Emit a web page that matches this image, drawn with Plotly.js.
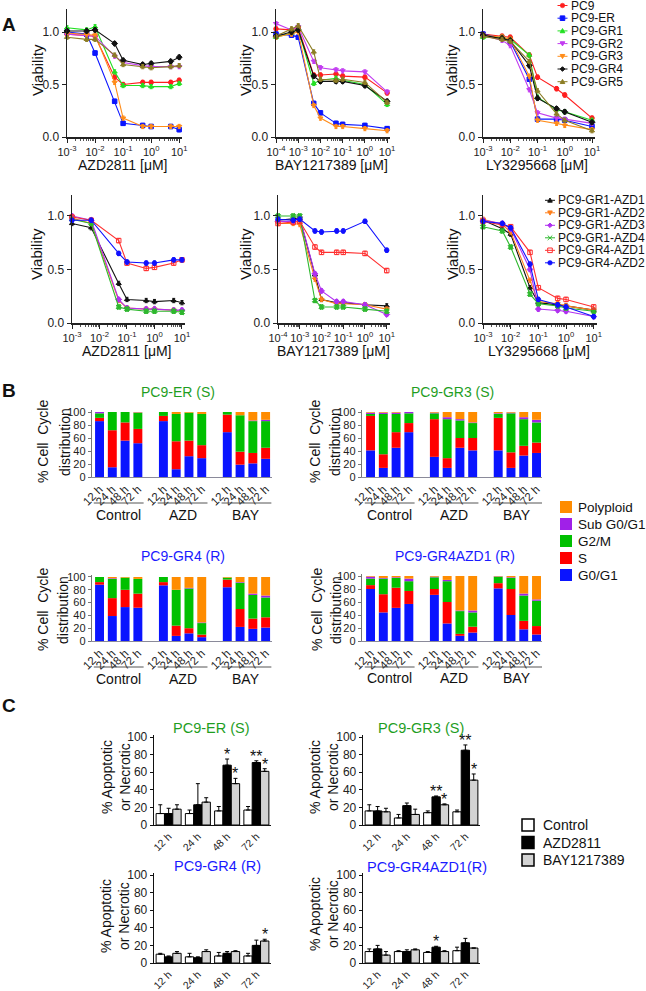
<!DOCTYPE html>
<html><head><meta charset="utf-8">
<script src="https://cdn.plot.ly/plotly-3.0.1.min.js"></script>
<style>html,body{margin:0;padding:0;background:#fff}#chart{width:646px;height:991px}</style>
</head><body><div id="chart"></div>
<script>
const W = 646, H = 991;
const px = x => x / W;
const py = y => 1 - y / H;
const FONT = 'Liberation Sans, Arial, sans-serif';

// ================= Panel A data =================
const seriesA = ['PC9','PC9-ER','PC9-GR1','PC9-GR2','PC9-GR3','PC9-GR4','PC9-GR5'];
const doseAZD = [0.001,0.005,0.01,0.05,0.1,0.5,1,5,10];
const doseBAY = [0.0001,0.0005,0.001,0.005,0.01,0.05,0.1,1,10];
const doseLY  = [0.001,0.005,0.01,0.05,0.1,0.5,1,10];
const viabAZD = [
  [0.98,0.97,0.96,0.57,0.50,0.52,0.52,0.52,0.54],
  [1.00,0.98,0.80,0.34,0.13,0.11,0.10,0.10,0.07],
  [1.04,1.02,1.05,0.62,0.49,0.49,0.48,0.48,0.51],
  [0.98,0.97,0.96,0.77,0.71,0.68,0.67,0.67,0.67],
  [0.99,0.98,0.97,0.52,0.18,0.10,0.10,0.10,0.10],
  [1.01,1.01,1.02,0.89,0.73,0.69,0.70,0.72,0.76],
  [0.95,0.93,0.93,0.78,0.69,0.67,0.66,0.67,0.68]
];
const viabBAY = [
  [1.03,1.02,1.04,0.59,0.59,0.60,0.58,0.57,0.42],
  [0.98,0.97,0.95,0.32,0.23,0.13,0.12,0.11,0.08],
  [0.95,0.99,1.03,0.51,0.54,0.56,0.54,0.50,0.31],
  [1.08,1.02,1.05,0.72,0.66,0.64,0.63,0.62,0.43],
  [0.95,0.98,1.00,0.30,0.18,0.10,0.10,0.08,0.06],
  [0.96,1.00,1.02,0.58,0.53,0.53,0.53,0.49,0.34],
  [0.96,1.03,1.06,0.81,0.55,0.54,0.55,0.52,0.33]
];
const viabLY = [
  [0.98,0.96,0.95,0.78,0.57,0.46,0.40,0.18],
  [0.98,0.94,0.91,0.55,0.17,0.17,0.16,0.10],
  [0.95,0.95,0.93,0.78,0.38,0.26,0.24,0.16],
  [0.97,0.92,0.87,0.45,0.23,0.18,0.17,0.13],
  [0.97,0.95,0.93,0.58,0.16,0.13,0.11,0.07],
  [0.97,0.94,0.92,0.68,0.37,0.27,0.24,0.14],
  [0.96,0.93,0.91,0.72,0.44,0.22,0.16,0.06]
];
const seriesA2 = ['PC9-GR1-AZD1','PC9-GR1-AZD2','PC9-GR1-AZD3','PC9-GR1-AZD4','PC9-GR4-AZD1','PC9-GR4-AZD2'];
const doseAZD2 = [0.001,0.005,0.05,0.1,0.5,1,5,10];
const viabAZD2 = [
  [0.93,0.89,0.37,0.22,0.21,0.20,0.21,0.19],
  [0.98,0.93,0.21,0.14,0.13,0.13,0.12,0.11],
  [1.00,0.96,0.22,0.14,0.13,0.13,0.12,0.12],
  [0.97,0.93,0.15,0.13,0.11,0.11,0.11,0.10],
  [0.99,0.96,0.77,0.56,0.51,0.52,0.56,0.59],
  [0.96,0.96,0.65,0.57,0.56,0.56,0.59,0.59]
];
const viabBAY2 = [
  [0.96,0.97,0.98,0.45,0.22,0.19,0.19,0.17,0.16],
  [0.93,0.93,0.92,0.41,0.22,0.18,0.18,0.17,0.13],
  [0.95,0.95,0.99,0.46,0.30,0.20,0.20,0.17,0.08],
  [1.00,1.00,1.00,0.21,0.15,0.15,0.15,0.13,0.11],
  [0.93,0.94,0.95,0.71,0.66,0.66,0.66,0.65,0.49],
  [0.97,0.96,0.97,0.86,0.85,0.86,0.86,0.95,0.68]
];
const viabLY2 = [
  [0.96,0.88,0.83,0.33,0.19,0.17,0.16,0.12],
  [0.97,0.92,0.85,0.40,0.20,0.18,0.16,0.12],
  [0.96,0.93,0.88,0.50,0.13,0.12,0.11,0.06],
  [0.90,0.86,0.71,0.27,0.18,0.16,0.14,0.11],
  [0.95,0.92,0.90,0.66,0.33,0.23,0.22,0.15],
  [0.95,0.93,0.89,0.55,0.22,0.17,0.15,0.06]
];
const tickVals3 = [0.001,0.01,0.1,1,10];
const tickText3 = ['10<sup>-3</sup>','10<sup>-2</sup>','10<sup>-1</sup>','10<sup>0</sup>','10<sup>1</sup>'];
const tickVals4 = [0.0001,0.001,0.01,0.1,1,10];
const tickText4 = ['10<sup>-4</sup>','10<sup>-3</sup>','10<sup>-2</sup>','10<sup>-1</sup>','10<sup>0</sup>','10<sup>1</sup>'];
const viabTickVals = [0,0.5,1];
const viabTickText = ['0.0','0.5','1.0'];

// ================= Panel B data =================
const timepoints = ['12 h','24 h','48 h','72 h'];
const treatmentsB = ['Control','AZD','BAY'];
const phaseNames = ['G0/G1','S','G2/M','Sub G0/G1','Polyploid'];
// order: Control 12,24,48,72 | AZD 12..72 | BAY 12..72
const erG0   = [86,15,56,52, 86,12,32,29, 69,19,21,28];
const erS    = [5,57,28,22, 8,43,24,20, 27,20,16,17];
const erG2M  = [7,28,16,25, 6,42,43,48, 4,56,49,41];
const erSub  = [2,0,0,0.5, 0,0,0,0, 0,0,1,2];
const erPoly = [0,0,0,0.5, 0,3,1,3, 0,5,13,12];
const gr3G0   = [41,14,45,69, 31,14,45,41, 41,14,33,37];
const gr3S    = [53,21,24,14, 58,15,15,19, 50,24,15,16];
const gr3G2M  = [3,62,28,15, 9,60,27,23, 6,60,41,31];
const gr3Sub  = [2,2,2,2, 1,3,2,1, 1,1,3,4];
const gr3Poly = [1,1,1,0, 1,8,11,16, 2,1,8,12];
const gr4G0   = [88,39,53,52, 87,8,12,6, 84,22,19,21];
const gr4S    = [4,28,27,22, 5,16,8,4, 12,28,16,16];
const gr4G2M  = [8,30,19,23, 8,56,62,18, 3,41,37,31];
const gr4Sub  = [0,1,0,0, 0,0,1,1, 0,1,2,3];
const gr4Poly = [0,2,1,3, 0,20,17,71, 1,8,26,29];
const gaG0   = [80,44,51,57, 71,27,8,13, 81,40,18,10];
const gaS    = [6,28,31,20, 9,33,3,9, 8,40,13,13];
const gaG2M  = [10,24,15,15, 18,32,35,22, 10,17,39,39];
const gaSub  = [3,1,1,4, 1,2,1,3, 0.5,1,3,2];
const gaPoly = [1,3,2,4, 1,6,53,53, 0.5,2,27,36];
const pctTicks = [0,20,40,60,80,100];

// ================= Panel C data =================
const groupsC = ['Control','AZD2811','BAY1217389'];
const cErCtrl = [13,13,16,17], cErCtrlErr = [10,4,5,4];
const cErAZD  = [13,23,68,71], cErAZDErr  = [6,24,7,2];
const cErBAY  = [18,26,47,61], cErBAYErr  = [5,5,6,3];
const cErSigAZD = ['','','*','**'], cErSigBAY = ['','','*','*'];
const cG3Ctrl = [16,8,14,15], cG3CtrlErr = [7,4,2,2];
const cG3AZD  = [16,22,32,85], cG3AZDErr  = [5,3,1,6];
const cG3BAY  = [15,12,23,51], cG3BAYErr  = [4,6,1,7];
const cG3SigAZD = ['','','**','**'], cG3SigBAY = ['','','*','*'];
const cG4Ctrl = [10,7,8,8], cG4CtrlErr = [1,4,4,3];
const cG4AZD  = [7,6,11,20], cG4AZDErr  = [1,1,2,6];
const cG4BAY  = [11,13,13,25], cG4BAYErr  = [2,2,1,2];
const cG4SigAZD = ['','','',''], cG4SigBAY = ['','','','*'];
const cGaCtrl = [13,13,12,14], cGaCtrlErr = [3,1,1,4];
const cGaAZD  = [16,13,18,23], cGaAZDErr  = [4,2,1,5];
const cGaBAY  = [9,15,13,17], cGaBAYErr  = [4,1,1,0];
const cGaSigAZD = ['','','*',''], cGaSigBAY = ['','','',''];

// ================= styles =================
const stylesA = [
  {c:'#ff1f1f', s:'circle'}, {c:'#0a14ff', s:'square'}, {c:'#22e022', s:'triangle-up'},
  {c:'#c23cf0', s:'triangle-down'}, {c:'#ff8c1a', s:'triangle-down'}, {c:'#111111', s:'diamond'},
  {c:'#8c7d24', s:'triangle-up'}
];
const stylesA2 = [
  {c:'#111111', s:'triangle-up'}, {c:'#ff7f1a', s:'triangle-down'}, {c:'#b030f0', s:'diamond'},
  {c:'#2db82d', s:'x'}, {c:'#ff3030', s:'square-open'}, {c:'#1010ff', s:'circle'}
];
const phaseColors = ['#0a14ff','#ff0000','#00c000','#a020e8','#ff8c00'];
const cColors = ['#ffffff','#000000','#d3d3d3'];
const green = '#1f9e1f', blue = '#1a1aff';

const layout = {
  width: W, height: H, margin: {l:0, r:0, t:0, b:0}, showlegend: false, barmode: 'overlay',
  paper_bgcolor: '#fff', plot_bgcolor: 'rgba(0,0,0,0)',
  font: {family: FONT, color: '#222'}, annotations: [], shapes: []
};
const data = [];
let axN = 0;
function newAxes(xPx, yPx, xo, yo) {
  axN++;
  const s = axN === 1 ? '' : String(axN);
  layout['xaxis' + s] = Object.assign({domain: [px(xPx[0]), px(xPx[1])], anchor: 'y' + s,
    showgrid: false, zeroline: false, showline: true, fixedrange: true}, xo);
  layout['yaxis' + s] = Object.assign({domain: [py(yPx[1]), py(yPx[0])], anchor: 'x' + s,
    showgrid: false, zeroline: false, showline: true, fixedrange: true}, yo);
  return {x: 'x' + s, y: 'y' + s};
}
function txt(text, x, y, o) {
  o = o || {};
  layout.annotations.push(Object.assign({text: text, x: px(x), y: py(y), xref: 'paper', yref: 'paper',
    xanchor: 'center', yanchor: 'middle', showarrow: false,
    font: {family: FONT, size: o.size || 14, color: o.color || '#111'}}, o.extra || {}));
}

// ---------- Panel A ----------
const lineCol = '#222';
function logX(range, tv, tt) {
  return {type: 'log', range: range, tickmode: 'array', tickvals: tv, ticktext: tt, tickangle: 0,
    ticks: 'outside', ticklen: 4, tickwidth: 1, tickcolor: lineCol, linecolor: lineCol, linewidth: 1.5,
    tickfont: {size: 11, color: '#222'},
    minor: {ticks: 'outside', ticklen: 2, tickwidth: 1, tickcolor: '#555', dtick: 'D1', showgrid: false}};
}
function viabY(top) {
  return {range: [0, top], tickmode: 'array', tickvals: viabTickVals, ticktext: viabTickText,
    ticks: 'outside', ticklen: 4, tickwidth: 1, tickcolor: lineCol, linecolor: lineCol, linewidth: 1.5,
    tickfont: {size: 12, color: '#222'}};
}
function addCurves(ax, doses, vals, names, styles) {
  vals.forEach((v, i) => {
    data.push({type: 'scatter', mode: 'lines+markers', x: doses, y: v, name: names[i],
      xaxis: ax.x, yaxis: ax.y, cliponaxis: false,
      line: {color: styles[i].c, width: 1.1},
      marker: {color: styles[i].c, symbol: styles[i].s, size: 4.5, line: {color: styles[i].c, width: 1}},
      error_y: {type: 'constant', value: 0.02, color: styles[i].c, thickness: 1, width: 1.5}});
  });
}
const a1 = newAxes([67,182],[9,137], logX([-3,1.1], tickVals3, tickText3), viabY(1.219));
const a2 = newAxes([276,390],[9,137], logX([-4,1.13], tickVals4, tickText4), viabY(1.219));
const a3 = newAxes([483,595],[9,137], logX([-3,1.11], tickVals3, tickText3), viabY(1.219));
const a4 = newAxes([72,185],[195,323], logX([-3,1.11], tickVals3, tickText3), viabY(1.196));
const a5 = newAxes([278,390],[195,323], logX([-4,1.15], tickVals4, tickText4), viabY(1.196));
const a6 = newAxes([483,597],[195,323], logX([-3,1.12], tickVals3, tickText3), viabY(1.196));
addCurves(a1, doseAZD, viabAZD, seriesA, stylesA);
addCurves(a2, doseBAY, viabBAY, seriesA, stylesA);
addCurves(a3, doseLY, viabLY, seriesA, stylesA);
addCurves(a4, doseAZD2, viabAZD2, seriesA2, stylesA2);
addCurves(a5, doseBAY, viabBAY2, seriesA2, stylesA2);
addCurves(a6, doseLY, viabLY2, seriesA2, stylesA2);

[[122.5,165,'AZD2811 [μM]'],[331,165,'BAY1217389 [μM]'],[537,165,'LY3295668 [μM]'],
 [127,351,'AZD2811 [μM]'],[333,351,'BAY1217389 [μM]'],[539,351,'LY3295668 [μM]']]
  .forEach(t => txt(t[2], t[0], t[1], {size: 14}));
[[37,70],[245,70],[451,70],[37,254],[246,254],[453,254]]
  .forEach(t => txt('Viability', t[0], t[1], {size: 15, extra: {textangle: -90}}));

// legend helpers (shapes in paper coords)
function symShape(sym, cx, cy, r, col) {
  const P = (x, y) => px(x) + ',' + py(y);
  let path;
  if (sym === 'circle') {
    layout.shapes.push({type: 'circle', xref: 'paper', yref: 'paper', x0: px(cx - r), x1: px(cx + r),
      y0: py(cy + r), y1: py(cy - r), fillcolor: col, line: {color: col, width: 0.5}});
    return;
  }
  let fill = col;
  if (sym === 'square' || sym === 'square-open') {
    path = 'M' + P(cx-r,cy-r) + 'L' + P(cx+r,cy-r) + 'L' + P(cx+r,cy+r) + 'L' + P(cx-r,cy+r) + 'Z';
    if (sym === 'square-open') fill = 'rgba(0,0,0,0)';
  } else if (sym === 'triangle-up') {
    path = 'M' + P(cx,cy-r) + 'L' + P(cx+r,cy+r*0.8) + 'L' + P(cx-r,cy+r*0.8) + 'Z';
  } else if (sym === 'triangle-down') {
    path = 'M' + P(cx,cy+r) + 'L' + P(cx+r,cy-r*0.8) + 'L' + P(cx-r,cy-r*0.8) + 'Z';
  } else if (sym === 'diamond') {
    path = 'M' + P(cx,cy-r) + 'L' + P(cx+r,cy) + 'L' + P(cx,cy+r) + 'L' + P(cx-r,cy) + 'Z';
  } else if (sym === 'x') {
    path = 'M' + P(cx-r,cy-r) + 'L' + P(cx+r,cy+r) + 'M' + P(cx+r,cy-r) + 'L' + P(cx-r,cy+r);
    fill = 'rgba(0,0,0,0)';
  }
  layout.shapes.push({type: 'path', xref: 'paper', yref: 'paper', path: path, fillcolor: fill,
    line: {color: col, width: 1}});
}
function lineLegend(names, styles, cx, y0, dy, textX) {
  names.forEach((n, i) => {
    const y = y0 + dy * i;
    layout.shapes.push({type: 'line', xref: 'paper', yref: 'paper', x0: px(cx - 5), x1: px(cx + 5),
      y0: py(y), y1: py(y), line: {color: styles[i].c, width: 1}});
    symShape(styles[i].s, cx, y, 2.3, styles[i].c);
    txt(n, textX, y, {size: 12, extra: {xanchor: 'left'}});
  });
}
lineLegend(seriesA, stylesA, 562.5, 5.5, 12.7, 569);
lineLegend(seriesA2, stylesA2, 550, 200.3, 12.5, 556);

// ---------- Panel B ----------
const barPos = [];
treatmentsB.forEach((t, g) => timepoints.forEach((tp, k) => barPos.push(g * 5 + k)));
const barTickText = [];
treatmentsB.forEach(() => timepoints.forEach(tp => barTickText.push(tp)));
function bX(range) {
  return {range: range, tickmode: 'array', tickvals: barPos, ticktext: barTickText, tickangle: -45,
    ticks: '', linecolor: '#8a8a9a', linewidth: 1.2, tickfont: {size: 11.5, color: '#222'}};
}
function bY(range) {
  return {range: range, tickmode: 'array', tickvals: pctTicks, ticks: 'outside', ticklen: 3,
    tickcolor: '#777', linecolor: '#777', linewidth: 1.2, tickfont: {size: 11, color: '#222'}};
}
function addStack(ax, parts) {
  const base = barPos.map(() => 0);
  parts.forEach((vals, p) => {
    data.push({type: 'bar', x: barPos, y: vals, base: base.slice(), width: 0.7, name: phaseNames[p],
      xaxis: ax.x, yaxis: ax.y, marker: {color: phaseColors[p], line: {width: 0}}});
    vals.forEach((v, i) => base[i] += v);
  });
}
function bDecor(ax, underY, labelY) {
  treatmentsB.forEach((t, g) => {
    layout.shapes.push({type: 'line', xref: ax.x, yref: 'paper', x0: g * 5 - 0.45, x1: g * 5 + 3.45,
      y0: py(underY), y1: py(underY), line: {color: '#555', width: 1}});
    layout.annotations.push({text: t, xref: ax.x, yref: 'paper', x: g * 5 + 1.5, y: py(labelY),
      xanchor: 'center', yanchor: 'middle', showarrow: false, font: {family: FONT, size: 14, color: '#111'}});
  });
}
const b1 = newAxes([92,272],[410,477], bX([-0.59,13.5]), bY([0,103.1]));
const b2 = newAxes([362,542],[410,477], bX([-0.67,13.43]), bY([0,103.1]));
const b3 = newAxes([92,272],[575,641], bX([-0.59,13.5]), bY([0,103.1]));
const b4 = newAxes([362,542],[574,641], bX([-0.67,13.43]), bY([0,103.1]));
addStack(b1, [erG0, erS, erG2M, erSub, erPoly]);
addStack(b2, [gr3G0, gr3S, gr3G2M, gr3Sub, gr3Poly]);
addStack(b3, [gr4G0, gr4S, gr4G2M, gr4Sub, gr4Poly]);
addStack(b4, [gaG0, gaS, gaG2M, gaSub, gaPoly]);
bDecor(b1, 503, 515); bDecor(b2, 503, 515); bDecor(b3, 667, 679); bDecor(b4, 667, 678);
txt('PC9-ER (S)', 178, 392, {size: 14, color: green});
txt('PC9-GR3 (S)', 452, 392, {size: 14, color: green});
txt('PC9-GR4 (R)', 183, 556, {size: 14, color: blue});
txt('PC9-GR4AZD1 (R)', 455, 556, {size: 14, color: blue});
[[43,65,442],[315,335,442],[43,63,610],[317,336,610]].forEach(t => {
  txt('% Cell  Cycle', t[0], t[2], {size: 14, extra: {textangle: -90}});
  txt('distribution', t[1], t[2], {size: 14, extra: {textangle: -90}});
});
// phase legend (top to bottom: Polyploid ... G0/G1)
[4,3,2,1,0].forEach((p, i) => {
  const y = 507 + 17 * i;
  layout.shapes.push({type: 'rect', xref: 'paper', yref: 'paper', x0: px(560), x1: px(572),
    y0: py(y + 6), y1: py(y - 6), fillcolor: phaseColors[p], line: {width: 0}});
  txt(phaseNames[p], 576, y, {size: 13.5, extra: {xanchor: 'left'}});
});

// ---------- Panel C ----------
const cW = 0.285;
const cOffsets = [-1.5 * cW, -0.5 * cW, 0.5 * cW];
function cX() {
  return {type: 'category', range: [-0.5, 3.5], tickangle: -45, ticks: '', linecolor: '#111', linewidth: 1.3,
    tickfont: {size: 10.5, color: '#222'}};
}
function cY() {
  return {range: [0, 102.3], tickmode: 'array', tickvals: pctTicks, ticks: 'outside', ticklen: 3,
    tickcolor: '#111', linecolor: '#111', linewidth: 1.3, tickfont: {size: 12, color: '#222'}};
}
function addGroup(ax, sets, sigAZD, sigBAY) {
  sets.forEach((s, k) => {
    data.push({type: 'bar', x: timepoints, y: s[0], width: cW, offset: cOffsets[k], name: groupsC[k],
      xaxis: ax.x, yaxis: ax.y, marker: {color: cColors[k], line: {color: '#000', width: 1}},
      error_y: {type: 'data', array: s[1], symmetric: false, arrayminus: s[1].map(() => 0),
        color: '#000', thickness: 1, width: 2}});
  });
  [[sigAZD, 1], [sigBAY, 2]].forEach(pair => {
    pair[0].forEach((st, i) => {
      if (!st) return;
      const s = sets[pair[1]];
      layout.annotations.push({text: st, xref: ax.x, yref: ax.y, x: i + cOffsets[pair[1]] + cW / 2,
        y: s[0][i] + s[1][i], xanchor: 'center', yanchor: 'bottom', yshift: -6, showarrow: false,
        font: {family: FONT, size: 16, color: '#111'}});
    });
  });
}
const c1 = newAxes([154,271],[735,825], cX(), cY());
const c2 = newAxes([363,480],[735,825], cX(), cY());
const c3 = newAxes([154,271],[873,963], cX(), cY());
const c4 = newAxes([363,480],[873,963], cX(), cY());
addGroup(c1, [[cErCtrl,cErCtrlErr],[cErAZD,cErAZDErr],[cErBAY,cErBAYErr]], cErSigAZD, cErSigBAY);
addGroup(c2, [[cG3Ctrl,cG3CtrlErr],[cG3AZD,cG3AZDErr],[cG3BAY,cG3BAYErr]], cG3SigAZD, cG3SigBAY);
addGroup(c3, [[cG4Ctrl,cG4CtrlErr],[cG4AZD,cG4AZDErr],[cG4BAY,cG4BAYErr]], cG4SigAZD, cG4SigBAY);
addGroup(c4, [[cGaCtrl,cGaCtrlErr],[cGaAZD,cGaAZDErr],[cGaBAY,cGaBAYErr]], cGaSigAZD, cGaSigBAY);
txt('PC9-ER (S)', 211, 728, {size: 14.5, color: green});
txt('PC9-GR3 (S)', 421, 728, {size: 14.5, color: green});
txt('PC9-GR4 (R)', 217, 866, {size: 14.5, color: blue});
txt('PC9-GR4AZD1(R)', 427, 867, {size: 14.5, color: blue});
[[107,125,777],[315,333,777],[106,124,916],[315,333,914]].forEach(t => {
  txt('% Apoptotic', t[0], t[2], {size: 14, extra: {textangle: -90}});
  txt('or Necrotic', t[1], t[2], {size: 14, extra: {textangle: -90}});
});
groupsC.forEach((g, k) => {
  const y = 825 + 17.5 * k;
  layout.shapes.push({type: 'rect', xref: 'paper', yref: 'paper', x0: px(522), x1: px(534),
    y0: py(y + 6), y1: py(y - 6), fillcolor: cColors[k], line: {color: '#000', width: 1.5}});
  txt(g, 541, y, {size: 14, extra: {xanchor: 'left'}});
});

// panel letters
txt('<b>A</b>', 9, 24, {size: 19});
txt('<b>B</b>', 9, 390, {size: 19});
txt('<b>C</b>', 9, 705, {size: 19});

Plotly.newPlot('chart', data, layout, {displayModeBar: false, staticPlot: true});
</script></body></html>
